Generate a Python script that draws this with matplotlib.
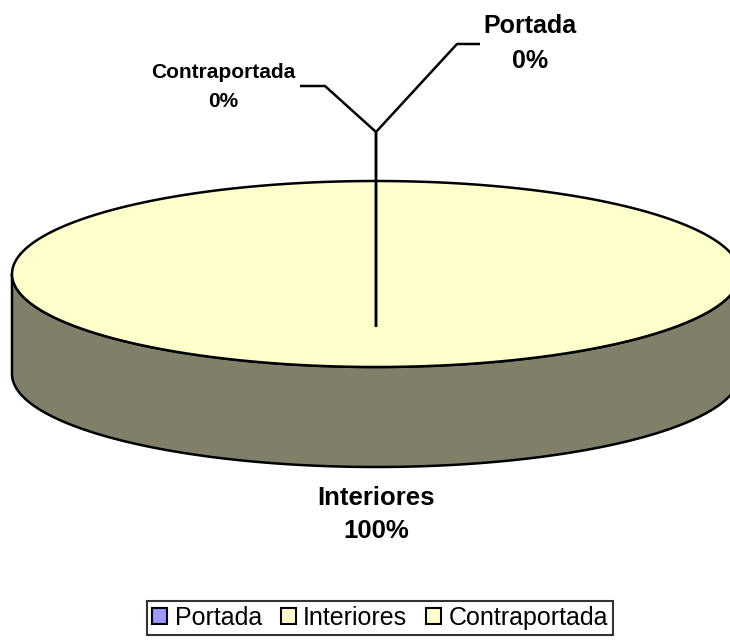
import numpy as np
import matplotlib.pyplot as plt
from matplotlib.patches import Polygon, Patch

plt.rcParams["font.family"] = ["Liberation Sans", "DejaVu Sans"]

# data
LABELS = ["Portada", "Interiores", "Contraportada"]
VALUES = [0, 100, 0]
TOP_COLORS = ["#9999FF", "#FFFFCC", "#FFFFCC"]
SIDE_COLORS = ["#666699", "#80806A", "#80806A"]

# pie geometry (pixel space)
CX, CY = 376, 274
RX, RY = 364, 93
DEPTH = 100
START = 90.0  # Excel starts at 12 o'clock, clockwise

# label layout: x centre, baseline of name, baseline of percent, font size
LABEL_POS = {
    "Portada": (530, 33, 68, 18),
    "Interiores": (376, 505, 538, 18.5),
    "Contraportada": (223, 78, 107, 15),
}
ELBOW = (376, 132)
ANCHOR = (376, 327)
LEADER_ENDS = {
    "Portada": [(480, 44), (457, 44)],
    "Contraportada": [(300, 86), (325, 86)],
}


def ell(theta_deg, dy=0.0):
    t = np.radians(theta_deg)
    return np.column_stack([CX + RX * np.cos(t), CY - RY * np.sin(t) + dy])


def main():
    fig = plt.figure(figsize=(7.3, 6.42), dpi=100)
    ax = fig.add_axes([0, 0, 1, 1])
    ax.set_xlim(0, 730)
    ax.set_ylim(642, 0)
    ax.axis("off")

    total = float(sum(VALUES))
    fracs = [v / total for v in VALUES]

    # slices: angle ranges going clockwise
    spans = []
    a0 = START
    for f in fracs:
        a1 = a0 - 360.0 * f
        spans.append((a0, a1))
        a0 = a1

    # front side walls (visible part is between -180 and 0 deg, shifted)
    for (a0, a1), f, col in zip(spans, fracs, SIDE_COLORS):
        if f <= 0:
            continue
        for k in range(-1, 2):
            lo = max(a1, -180 + 360 * k)
            hi = min(a0, 0 + 360 * k)
            if hi <= lo:
                continue
            th = np.linspace(hi, lo, 200)
            top = ell(th)
            bot = ell(th, DEPTH)[::-1]
            ax.add_patch(Polygon(np.vstack([top, bot]), closed=True,
                                 facecolor=col, edgecolor="black", lw=1.8,
                                 joinstyle="round"))

    # top faces
    for (a0, a1), f, col in zip(spans, fracs, TOP_COLORS):
        if f <= 0:
            continue
        th = np.linspace(a0, a1, 400)
        pts = ell(th)
        if f < 1:
            pts = np.vstack([[CX, CY], pts])
        ax.add_patch(Polygon(pts, closed=True, facecolor=col,
                             edgecolor="black", lw=1.8))

    # leader lines for the empty slices
    for name, ends in LEADER_ENDS.items():
        xs = [p[0] for p in ends] + [ELBOW[0], ANCHOR[0]]
        ys = [p[1] for p in ends] + [ELBOW[1], ANCHOR[1]]
        ax.plot(xs, ys, color="black", lw=1.8, solid_capstyle="butt")

    # data labels
    for name, v in zip(LABELS, VALUES):
        x, y1, y2, fs = LABEL_POS[name]
        ax.text(x, y1, name, ha="center", va="baseline",
                fontsize=fs, fontweight="bold")
        ax.text(x, y2, f"{v / total:.0%}", ha="center", va="baseline",
                fontsize=fs, fontweight="bold")

    handles = [Patch(facecolor=c, edgecolor="black", lw=1.5) for c in TOP_COLORS]
    leg = fig.legend(handles, LABELS, loc="center",
                     bbox_to_anchor=(380 / 730, 1 - 618 / 642), ncol=3,
                     frameon=True, fancybox=False, fontsize=18,
                     handlelength=0.6, handleheight=0.6,
                     handletextpad=0.3, columnspacing=0.75, borderpad=0.2,
                     borderaxespad=0)
    leg.get_frame().set_edgecolor("black")
    leg.get_frame().set_linewidth(1.5)

    fig.savefig("out.png", dpi=100)


if __name__ == "__main__":
    main()
